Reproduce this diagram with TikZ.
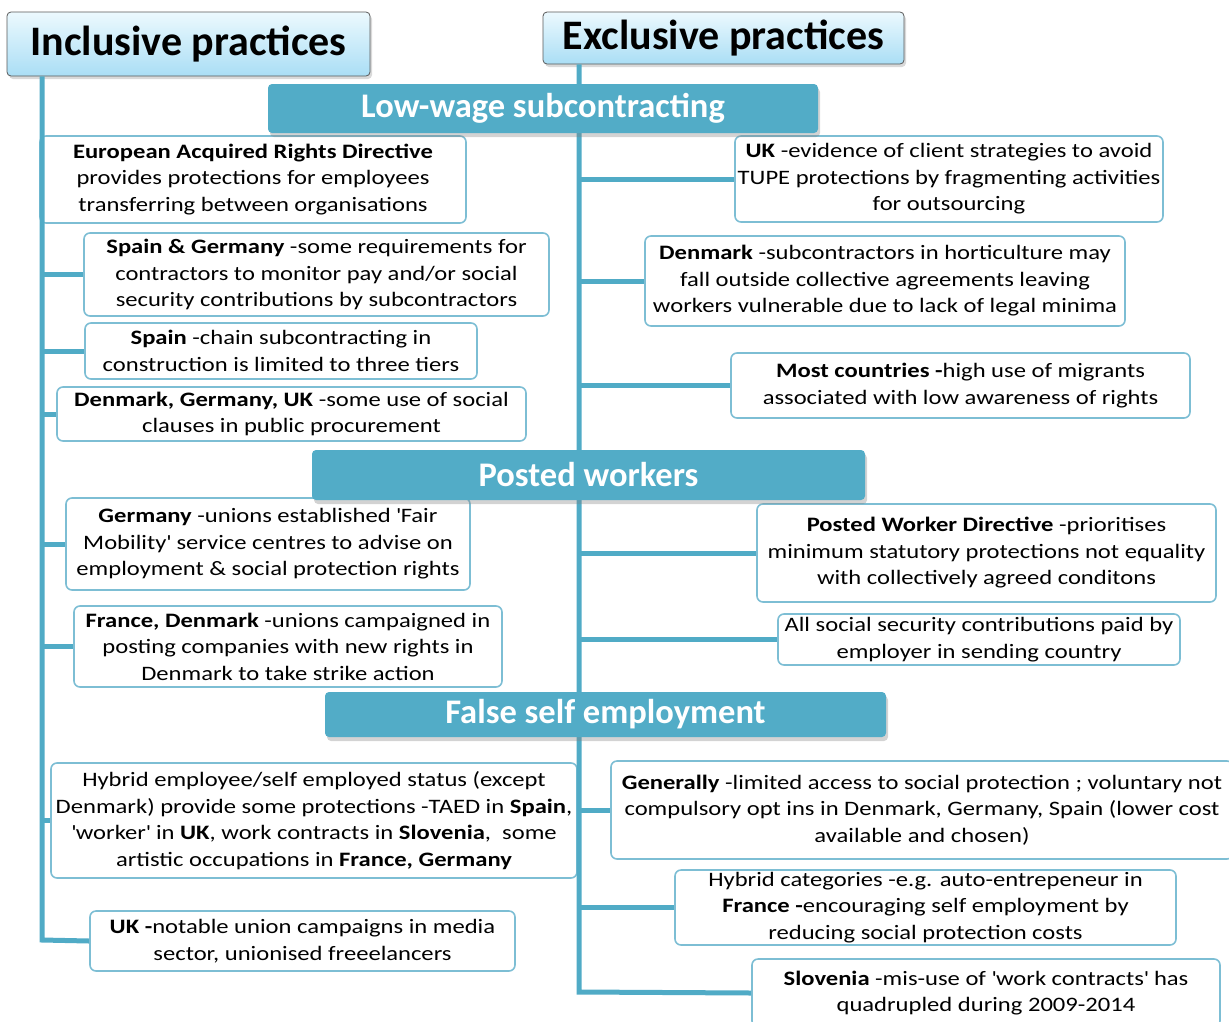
\documentclass[tikz,border=0pt]{standalone}
\usepackage{fontspec}
\setmainfont{Carlito}
\newfontfamily\bodyfont{Carlito}[FakeStretch=1.2]
\usetikzlibrary{shadows}
\definecolor{barc}{RGB}{82,172,199}
\definecolor{linec}{RGB}{80,171,198}
\definecolor{boxc}{RGB}{125,190,212}
\definecolor{hdtop}{RGB}{236,249,254}
\definecolor{hdbot}{RGB}{170,222,245}
\newcommand\sq{\textquotesingle}
\begin{document}
\begin{tikzpicture}[x=1pt,y=-1pt,
 item/.style={draw=boxc, line width=1.6pt, rounded corners=6pt, fill=white, align=center, inner sep=0pt, font=\bodyfont\fontsize{20.5}{26.5}\selectfont},
 catbar/.style={fill=barc, rounded corners=4pt, text=white, font=\fontsize{34.5}{38}\selectfont\bfseries, inner sep=0pt, drop shadow={opacity=0.35, shadow xshift=2pt, shadow yshift=-4pt}},
 header/.style={draw=black!65, line width=0.8pt, rounded corners=4pt, top color=hdtop, bottom color=hdbot, font=\fontsize{42}{46}\selectfont\bfseries, inner sep=0pt, drop shadow={opacity=0.3, shadow xshift=2pt, shadow yshift=-3pt}},
 conn/.style={draw=linec, line width=5pt}]
\useasboundingbox (0,0) rectangle (1229,1021);

% left items
\node[item, minimum width=426, minimum height=87] (eard) at (253,179.5) {\textbf{European Acquired Rights Directive}\\provides protections for employees\\transferring between organisations};
\node[item, minimum width=465, minimum height=83] (sg) at (316.5,274.5) {\textbf{Spain \& Germany} -some requirements for\\contractors to monitor pay and/or social\\security contributions by subcontractors};
\node[item, minimum width=392, minimum height=56] (sp) at (281,351) {\textbf{Spain} -chain subcontracting in\\construction is limited to three tiers};
\node[item, minimum width=469, minimum height=54] (dgu) at (291.5,414) {\textbf{Denmark, Germany, UK} -some use of social\\clauses in public procurement};
\node[item, minimum width=404, minimum height=92] (ger) at (268,544) {\textbf{Germany} -unions established \sq Fair\\Mobility\sq{} service centres to advise on\\employment \& social protection rights};
\node[item, minimum width=428, minimum height=81] (fd) at (288,646.5) {\textbf{France, Denmark} -unions campaigned in\\posting companies with new rights in\\Denmark to take strike action};
\node[item, minimum width=526, minimum height=115] (hyb) at (314,820.5) {Hybrid employee/self employed status (except\\Denmark) provide some protections -TAED in \textbf{Spain},\\\sq worker\sq{} in \textbf{UK}, work contracts in \textbf{Slovenia}, ~some\\artistic occupations in \textbf{France, Germany}};
\node[item, minimum width=425, minimum height=60] (ukn) at (302.5,941) {\textbf{UK -}notable union campaigns in media\\sector, unionised freeelancers};

% right items
\node[item, minimum width=428, minimum height=86] (uke) at (949,179) {\textbf{UK} -evidence of client strategies to avoid\\TUPE protections by fragmenting activities\\for outsourcing};
\node[item, minimum width=480, minimum height=90] (dk) at (885,281) {\textbf{Denmark} -subcontractors in horticulture may\\fall outside collective agreements leaving\\workers vulnerable due to lack of legal minima};
\node[item, minimum width=459, minimum height=65] (mc) at (960.5,385.5) {\textbf{Most countries -}high use of migrants\\associated with low awareness of rights};
\node[item, minimum width=459, minimum height=98] (pwd) at (986.5,553) {\textbf{Posted Worker Directive} -prioritises\\minimum statutory protections not equality\\with collectively agreed conditons};
\node[item, minimum width=402, minimum height=51] (ass) at (979,639.5) {All social security contributions paid by\\employer in sending country};
\node[item, minimum width=622, minimum height=98] (gen) at (922,810) {\textbf{Generally} -limited access to social protection ; voluntary not\\compulsory opt ins in Denmark, Germany, Spain (lower cost\\available and chosen)};
\node[item, minimum width=501, minimum height=75] (hc) at (925.5,907.5) {Hybrid categories -e.g. auto-entrepeneur in\\\textbf{France -}encouraging self employment by\\reducing social protection costs};
\node[item, minimum width=468, minimum height=68] (slo) at (986,993) {\textbf{Slovenia} -mis-use of \sq work contracts\sq{} has\\quadrupled during 2009-2014};

% headers
\node[header, minimum width=363, minimum height=64] (inc) at (188.5,44) {Inclusive practices};
\node[header, minimum width=361, minimum height=52] (exc) at (723.5,38) {Exclusive practices};

% trunks and branches
\coordinate (lc) at (42,940);
\coordinate (rc) at (579,992);
\draw[conn] (inc.south -| lc) -- (lc) -- (ukn.west);
\draw[conn] (exc.south -| rc) -- (rc) -- (slo.west);
\foreach \n in {sg,sp,dgu,ger,fd,hyb}{\draw[conn] (\n.west -| lc) -- (\n.west);}
\foreach \n in {uke,dk,mc,pwd,ass,gen,hc}{\draw[conn] (\n.west -| rc) -- (\n.west);}

% category bars
\node[catbar, minimum width=550, minimum height=49] (lw) at (543,108.5) {Low-wage subcontracting};
\node[catbar, minimum width=553, minimum height=50] (pw) at (588.5,475) {Posted workers};
\node[catbar, minimum width=561, minimum height=45] (fs) at (605.5,714.5) {False self employment};
\end{tikzpicture}
\end{document}
